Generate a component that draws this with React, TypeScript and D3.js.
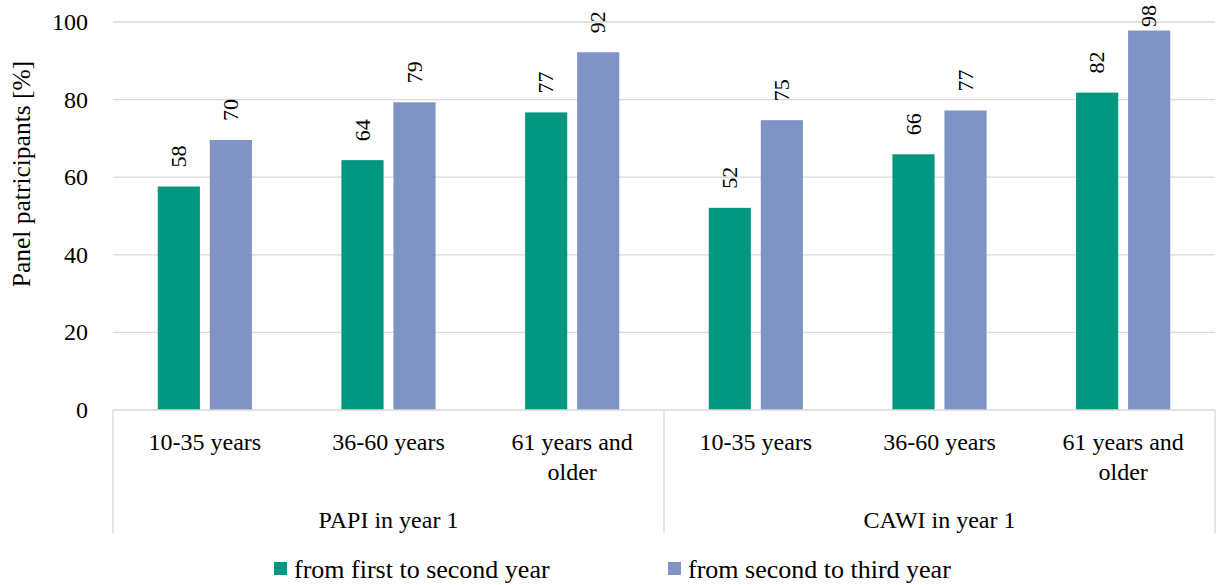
import React from "react";
import { scaleBand, scaleLinear } from "d3";

const groups = ["PAPI in year 1", "CAWI in year 1"];
const ageLabels = [["10-35 years"], ["36-60 years"], ["61 years and", "older"]];
const seriesNames = ["from first to second year", "from second to third year"];
const firstToSecond = [57.6, 64.4, 76.7, 52.1, 65.9, 81.8];
const secondToThird = [69.6, 79.3, 92.2, 74.7, 77.2, 97.8];
const labelsFirst = ["58", "64", "77", "52", "66", "82"];
const labelsSecond = ["70", "79", "92", "75", "77", "98"];
const yTicks = [0, 20, 40, 60, 80, 100];

const colors = ["#009781", "#7f93c4"];
const tf = { fontFamily: "'Liberation Serif', 'Times New Roman', serif" };

export default function App() {
  const W = 1222;
  const H = 585;
  const left = 113;
  const right = 1215;
  const top = 22;
  const bottom = 410;

  const cats = groups.flatMap((g, gi) => ageLabels.map((_, ai) => `${gi}-${ai}`));
  const x = scaleBand().domain(cats).range([left, right]).paddingInner(0).paddingOuter(0);
  const inner = scaleBand().domain(["0", "1"]).range([0, x.bandwidth()]).paddingInner(0.19).paddingOuter(0.86);
  const y = scaleLinear().domain([0, 100]).range([bottom, top]);
  const series = [firstToSecond, secondToThird];
  const labels = [labelsFirst, labelsSecond];
  const groupX = scaleBand().domain(groups).range([left, right]);

  return (
    <svg width={W} height={H} style={{ position: "absolute", left: 0, top: 0, background: "#fff" }}>
      {yTicks.map((t) => (
        <g key={t}>
          {t > 0 && <line x1={left} x2={right} y1={y(t)} y2={y(t)} stroke="#d9d9d9" strokeWidth={1.3} />}
          <text x={88} y={y(t)} dy="0.33em" textAnchor="end" fontSize={24} fill="#000" style={tf}>{t}</text>
        </g>
      ))}
      <text transform={`translate(30,174) rotate(-90)`} textAnchor="middle" fontSize={25.5} style={tf}>
        Panel patricipants [%]
      </text>
      {series.map((vals, si) =>
        vals.map((v, i) => {
          const bx = (x(cats[i]) ?? 0) + (inner(String(si)) ?? 0);
          const bw = inner.bandwidth();
          const ly = Math.max(y(v) - 19, 27);
          return (
            <g key={`${si}-${i}`}>
              <rect x={bx} y={y(v)} width={bw} height={bottom - y(v)} fill={colors[si]} />
              <text
                transform={`translate(${bx + bw / 2},${ly}) rotate(-90)`}
                dy="0.33em"
                fontSize={22}
                textAnchor="start"
                style={tf}
              >
                {labels[si][i]}
              </text>
            </g>
          );
        })
      )}
      <line x1={left} x2={right} y1={bottom} y2={bottom} stroke="#d9d9d9" strokeWidth={1.3} />
      {[left, groupX(groups[1]) ?? 0, right].map((lx, i) => (
        <line key={i} x1={lx} x2={lx} y1={bottom} y2={533} stroke="#d9d9d9" strokeWidth={1.3} />
      ))}
      {cats.map((c, i) =>
        ageLabels[i % 3].map((line, li) => (
          <text key={`${c}-${li}`} x={(x(c) ?? 0) + x.bandwidth() / 2} y={450 + li * 30} textAnchor="middle" fontSize={24} style={tf}>
            {line}
          </text>
        ))
      )}
      {groups.map((g) => (
        <text key={g} x={(groupX(g) ?? 0) + groupX.bandwidth() / 2} y={528} textAnchor="middle" fontSize={24} style={tf}>
          {g}
        </text>
      ))}
      {seriesNames.map((s, i) => (
        <g key={s} transform={`translate(${[274, 668][i]},562)`}>
          <rect x={0} y={0} width={13} height={13} fill={colors[i]} />
          <text x={20} y={16} fontSize={26} style={tf}>{s}</text>
        </g>
      ))}
    </svg>
  );
}
